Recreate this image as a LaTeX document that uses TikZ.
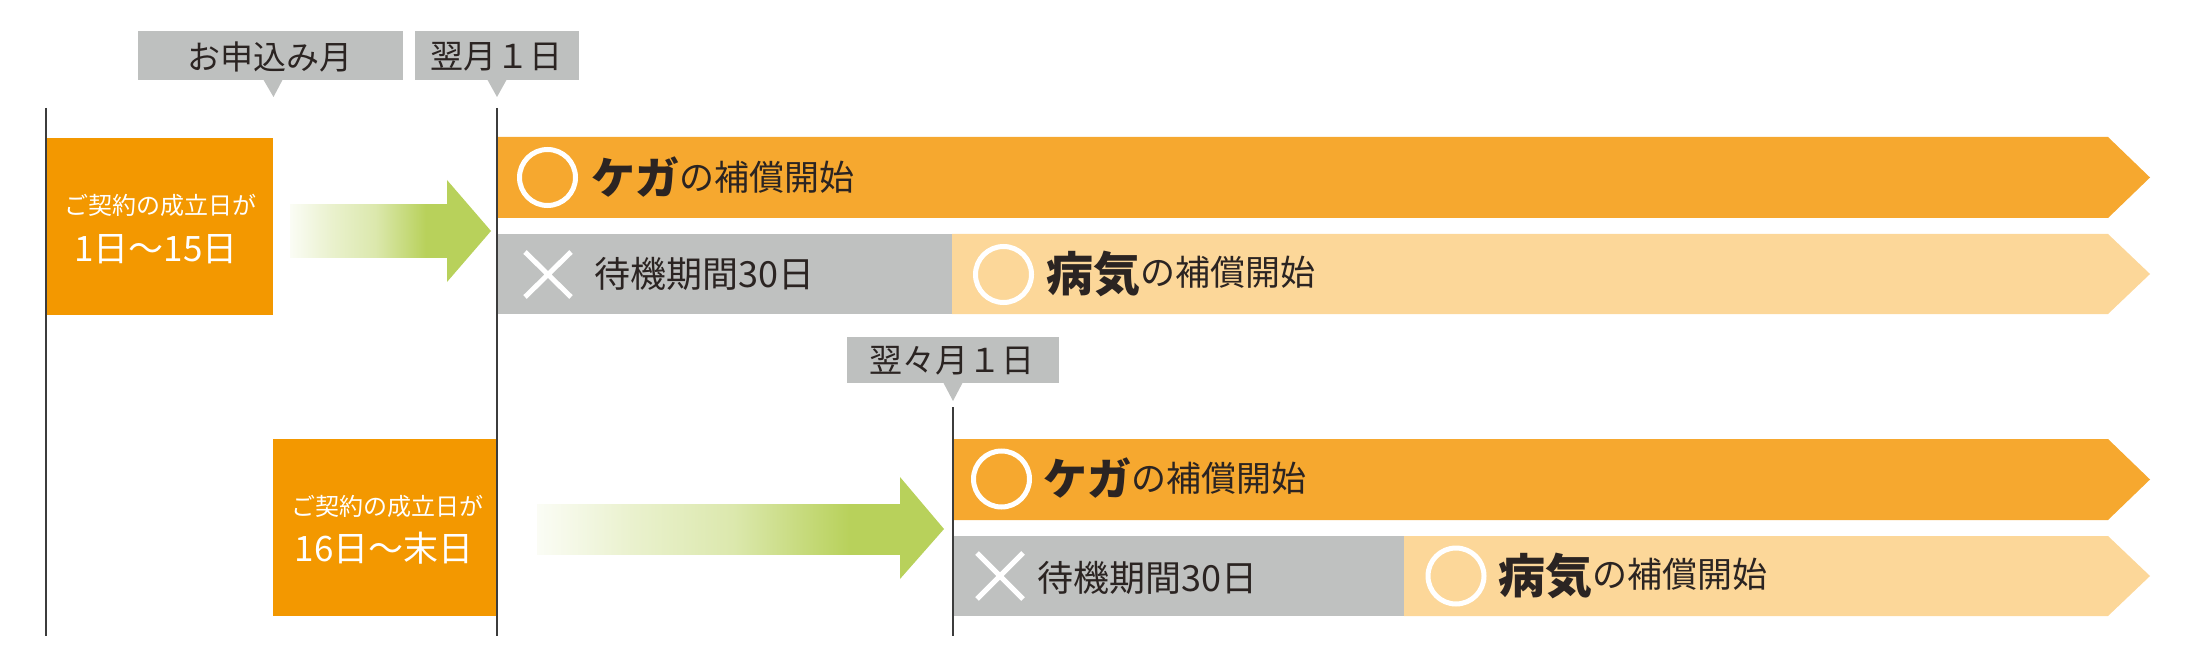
\documentclass[tikz,border=0pt]{standalone}
\usepackage{fontspec}
\newfontfamily\jp{Noto Sans CJK JP}
\definecolor{boxor}{HTML}{F39800}
\definecolor{baror}{HTML}{F6A82F}
\definecolor{barlt}{HTML}{FCD799}
\definecolor{bargr}{HTML}{BFC1C0}
\definecolor{lblgr}{HTML}{BEC0BF}
\definecolor{agreen}{HTML}{B8D15B}
\definecolor{ink}{HTML}{2B2422}
\definecolor{vline}{HTML}{3C3C3C}
\pgfdeclarehorizontalshading{gfade}{100bp}{color(0bp)=(agreen!6); color(25bp)=(agreen!6); color(38bp)=(agreen!30); color(52bp)=(agreen!50); color(68bp)=(agreen); color(100bp)=(agreen)}
\newcommand{\hurt}{\raisebox{-4pt}{\fontsize{44}{44}\selectfont\bfseries ケガ}}
\newcommand{\ill}{\raisebox{-6.5pt}{\fontsize{47}{47}\selectfont\bfseries 病気}}
\newcommand{\cover}{\fontsize{35}{35}\selectfont の補償開始}
\begin{document}
\begin{tikzpicture}[x=1pt,y=-1pt,
  lbl/.style={fill=lblgr, text=ink, font=\jp\fontsize{33}{33}\selectfont, inner sep=0pt},
  lbltxt/.style={text=ink, font=\jp\fontsize{33}{33}\selectfont, inner sep=0pt},
  obox/.style={fill=boxor, inner sep=0pt},
  wtxt/.style={text=white, inner sep=0pt, font=\jp},
  vl/.style={draw=vline, line width=1.5pt},
  okring/.style={draw=white, line width=5pt},
  ngx/.style={draw=white, line width=5pt},
  bartext/.style={text=ink, anchor=base west, inner sep=0pt, font=\jp}
]
\useasboundingbox (0,0) rectangle (2187,663);

% month labels
\node[lbl, minimum width=265pt, minimum height=49pt] (apply) at (270.5,55.5) {};
\node[lbltxt] (applyt) at (270,56.5) {お申込み月};
\fill[lblgr] (263,79) -- (283,79) -- (273.5,97) -- cycle;
\node[lbl, minimum width=164pt, minimum height=49pt] (next) at (497,55.5) {};
\node[lbltxt] (nextt) at (496,56.5) {翌月１日};
\fill[lblgr] (487,79) -- (507,79) -- (497,97) -- cycle;
\node[lbl, minimum width=212pt, minimum height=46pt] (next2) at (953,360) {};
\node[lbltxt] (next2t) at (952,361) {翌々月１日};
\fill[lblgr] (943,382) -- (963,382) -- (953,401) -- cycle;

% orange condition boxes
\node[obox, minimum width=227pt, minimum height=177pt] (c1) at (159.5,226.5) {};
\node[wtxt] (c1a) at (160,205) {\fontsize{24}{24}\selectfont ご契約の成立日が};
\node[wtxt] (c1b) at (156,249) {\fontsize{35}{35}\selectfont 1日～15日};
\node[obox, minimum width=225pt, minimum height=177pt] (c2) at (385.5,527.5) {};
\node[wtxt] (c2a) at (387.5,506) {\fontsize{24}{24}\selectfont ご契約の成立日が};
\node[wtxt] (c2b) at (384,548) {\fontsize{35}{35}\selectfont 16日～末日};

% green arrows
\shade[shading=gfade] (290,205) rectangle (448,257);
\fill[agreen] (447,180) -- (491,231) -- (447,282) -- cycle;
\shade[shading=gfade] (537,504) rectangle (901,554);
\fill[agreen] (900,477) -- (944,529) -- (900,579) -- cycle;

% bars, first case
\fill[baror] (498,137) -- (2108,137) -- (2150,177.5) -- (2108,218) -- (498,218) -- cycle;
\fill[bargr] (498,234) rectangle (952,314);
\fill[barlt] (952,234) -- (2108,234) -- (2150,274) -- (2108,314) -- (952,314) -- cycle;
% bars, second case
\fill[baror] (953,439) -- (2108,439) -- (2150,479.5) -- (2108,520) -- (953,520) -- cycle;
\fill[bargr] (953,536) rectangle (1404,616);
\fill[barlt] (1404,536) -- (2108,536) -- (2150,576) -- (2108,616) -- (1404,616) -- cycle;

% marks
\draw[okring] (547.5,177.5) circle[radius=28pt];
\draw[ngx] (525,252) -- (571,297) (571,252) -- (525,297);
\draw[okring] (1003.5,274.5) circle[radius=28pt];
\draw[okring] (1001.5,479) circle[radius=28pt];
\draw[ngx] (977,553) -- (1023,599) (1023,553) -- (977,599);
\draw[okring] (1456,576) circle[radius=28pt];

% bar texts
\node[bartext] (k1) at (591,190.3) {\hurt\cover};
\node[bartext] (w1) at (594,287.2) {\fontsize{36}{36}\selectfont 待機期間30日};
\node[bartext] (s1) at (1046,285.3) {\ill\cover};
\node[bartext] (k2) at (1043,491.8) {\hurt\cover};
\node[bartext] (w2) at (1037,591.7) {\fontsize{36}{36}\selectfont 待機期間30日};
\node[bartext] (s2) at (1498.5,587.3) {\ill\cover};

% time lines
\coordinate (t0a) at (46,108);
\coordinate (t0b) at (46,636);
\coordinate (t1a) at (497,108);
\coordinate (t1b) at (497,636);
\coordinate (t2a) at (953,407);
\coordinate (t2b) at (953,636);
\draw[vl] (t0a) -- (t0b);
\draw[vl] (t1a) -- (t1b);
\draw[vl] (t2a) -- (t2b);
\end{tikzpicture}
\end{document}
